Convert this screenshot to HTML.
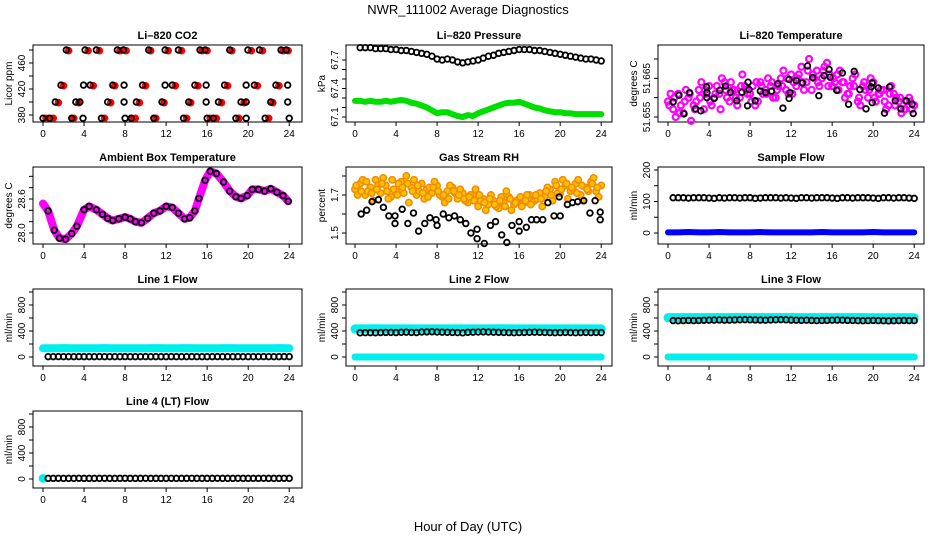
<!DOCTYPE html>
<html><head><meta charset="utf-8">
<style>
html,body{margin:0;padding:0;background:#fff;}
svg{display:block;font-family:"Liberation Sans",sans-serif;}
</style></head>
<body>
<svg id="chart" width="936" height="540" viewBox="0 0 936 540" xmlns="http://www.w3.org/2000/svg">
<text x="468" y="14" text-anchor="middle" font-size="13">NWR_111002  Average Diagnostics</text>
<text x="468" y="531" text-anchor="middle" font-size="13">Hour of Day (UTC)</text>
</svg>
<script>
// ---------- data ----------
const xTicks = [0,4,8,12,16,20,24];
// CO2
const co2BlackHours = [2.27,4.1,5.2,7.25,7.84,10.3,11.9,13.2,15.3,15.8,18.2,19.97,21.1,23.2,23.7, 1.75,3.95,4.6,6.8,7.9,9.7,11.9,12.6,14.8,15.9,17.7,19.8,20.6,22.7,23.85, 1.2,3.2,3.6,6.3,7.9,9.1,11.6,14.2,15.9,17.1,19.3,19.8,22.2,23.85, 0,0.65,2.8,3.9,5.7,8.0,8.6,10.8,13.7,16.0,16.6,18.8,19.8,21.65,24];
const co2BlackVals = [480,480,480,480,480,480,480,480,480,480,480,480,480,480,480, 426,426,426,426,426,426,426,426,426,426,426,426,426,426,426, 400,400,400,400,400,400,400,400,400,400,400,400,400,400, 375,375,375,375,375,375,375,375,375,375,375,375,375,375,375];
const co2RedHours = [2.5,4.4,5.5,7.5,8.1,10.5,12.2,13.5,15.5,16.0,18.4,20.3,21.4,23.4,23.9, 2.0,4.9,7.0,10.0,12.9,15.1,18.0,20.9,23.0, 1.5,3.5,6.6,9.4,11.8,14.4,17.4,19.6,22.4, 0.3,1.0,3.0,6.0,8.6,9.0,11.0,14.0,16.3,16.9,19.1,22.0];
const co2RedVals = [479,479,479,479,479,479,479,479,479,479,479,479,479,479,479, 425,425,425,425,425,425,425,425,425, 399,399,399,399,399,399,399,399,399, 375,375,375,375,375,375,375,375,375,375,375,375];
// Pressure
const presBlack = [67.83,67.83,67.83,67.82,67.82,67.82,67.81,67.81,67.80,67.80,67.79,67.78,67.77,67.76,67.74,67.71,67.70,67.71,67.70,67.68,67.67,67.68,67.69,67.70,67.72,67.74,67.75,67.77,67.78,67.79,67.80,67.81,67.81,67.81,67.80,67.80,67.79,67.78,67.77,67.76,67.75,67.74,67.73,67.72,67.71,67.71,67.70,67.69];
const presGreen = [67.27,67.27,67.26,67.27,67.26,67.26,67.27,67.26,67.27,67.28,67.27,67.25,67.24,67.22,67.20,67.17,67.14,67.15,67.15,67.13,67.11,67.10,67.12,67.11,67.14,67.16,67.18,67.20,67.22,67.24,67.25,67.25,67.26,67.24,67.22,67.20,67.19,67.17,67.16,67.15,67.15,67.14,67.14,67.13,67.13,67.13,67.13,67.13,67.13];
// Li-820 temperature
const tempBlackHours = [0.5,1.07,1.56,2.1,2.7,3.2,3.75,3.8,3.8,4.5,5.05,5.6,6.1,6.7,7.2,7.75,7.8,7.9,8.5,9.0,9.5,10.1,10.7,11.2,11.8,11.8,11.9,12.5,13.1,13.6,14.1,14.7,15.2,15.7,15.8,16.45,17.0,17.6,18.15,18.7,19.3,19.8,19.9,19.9,20.5,21.1,21.6,22.15,22.7,23.2,23.8,23.9];
const tempBlackVals = [51.6589,51.6606,51.6558,51.6613,51.6571,51.6566,51.6628,51.6613,51.6600,51.6598,51.6619,51.6630,51.6614,51.6592,51.6614,51.6579,51.6640,51.6621,51.6592,51.6617,51.6613,51.6617,51.6636,51.6573,51.6598,51.6647,51.6613,51.6644,51.6638,51.6682,51.6652,51.6605,51.6657,51.6673,51.6653,51.6619,51.6664,51.6583,51.6668,51.6621,51.6571,51.6628,51.6638,51.6587,51.6625,51.6560,51.6628,51.6592,51.6571,51.6592,51.6583,51.6559];
const tempMagA = [51.659,51.657,51.661,51.656,51.660,51.658,51.662,51.657,51.663,51.660,51.661,51.664,51.659,51.662,51.660,51.663,51.661,51.658,51.664,51.662,51.663,51.660,51.665,51.662,51.666,51.663,51.668,51.664,51.662,51.667,51.665,51.669,51.663,51.666,51.664,51.661,51.665,51.659,51.663,51.660,51.664,51.661,51.662,51.658,51.661,51.659,51.657,51.660,51.658];
const tempMagB = [51.661,51.655,51.658,51.662,51.654,51.659,51.664,51.661,51.658,51.663,51.665,51.660,51.662,51.658,51.666,51.661,51.663,51.659,51.661,51.665,51.660,51.663,51.667,51.661,51.664,51.666,51.662,51.670,51.665,51.663,51.668,51.666,51.664,51.667,51.660,51.663,51.666,51.658,51.662,51.665,51.659,51.662,51.657,51.663,51.660,51.656,51.659,51.657];
const tempMagC = [51.658,51.660,51.656,51.659,51.661,51.657,51.660,51.662,51.659,51.661,51.657,51.662,51.664,51.660,51.663,51.662,51.659,51.664,51.663,51.661,51.664,51.662,51.663,51.665,51.661,51.665,51.664,51.667,51.666,51.664,51.667,51.663,51.665,51.662,51.664,51.661,51.663,51.660,51.664,51.662,51.660,51.661,51.659,51.661,51.658,51.660,51.657,51.659];
// Ambient box temperature
const ambHours = [0,0.5,1.1,1.6,2.2,2.8,3.3,4.0,4.5,5.2,5.8,6.3,6.8,7.4,8.0,8.5,9.0,9.6,10.2,10.8,11.4,12.0,12.6,13.2,13.8,14.3,14.8,15.2,15.8,16.3,16.9,17.6,18.2,18.8,19.3,19.9,20.4,21.0,21.6,22.2,22.8,23.4,23.9];
const ambVals = [28.52,28.39,28.05,27.91,27.89,27.99,28.12,28.41,28.47,28.41,28.33,28.26,28.22,28.25,28.28,28.25,28.20,28.18,28.26,28.35,28.39,28.47,28.45,28.35,28.25,28.27,28.39,28.61,28.93,29.09,29.05,28.90,28.74,28.64,28.61,28.66,28.77,28.77,28.74,28.78,28.72,28.66,28.56];
// Gas stream RH
const rhBlackHours = [0.6,1.14,1.66,2.28,2.77,3.3,3.9,3.9,4.6,5.15,5.7,6.2,6.8,7.3,7.9,8.0,8.6,9.15,9.7,10.26,10.8,11.3,11.9,11.9,12.6,13.2,13.7,14.3,14.8,15.3,16.0,16.0,16.7,17.2,17.7,18.3,18.8,19.4,19.9,20.0,20.7,21.2,21.7,22.3,22.9,23.4,23.9,23.9];
const rhBlackVals = [1.60,1.62,1.665,1.675,1.635,1.59,1.59,1.55,1.625,1.55,1.605,1.51,1.55,1.58,1.57,1.54,1.60,1.58,1.59,1.57,1.55,1.50,1.52,1.47,1.445,1.54,1.56,1.49,1.45,1.54,1.56,1.51,1.53,1.57,1.57,1.57,1.66,1.59,1.69,1.59,1.65,1.66,1.665,1.67,1.605,1.67,1.61,1.57];
const rhOrangeA = [1.73,1.76,1.70,1.74,1.78,1.71,1.75,1.69,1.72,1.77,1.80,1.74,1.70,1.76,1.73,1.71,1.75,1.69,1.72,1.74,1.68,1.71,1.66,1.70,1.64,1.68,1.65,1.67,1.63,1.66,1.69,1.65,1.68,1.66,1.70,1.67,1.71,1.69,1.73,1.77,1.71,1.75,1.72,1.76,1.70,1.74,1.77,1.72,1.75];
const rhOrangeB = [1.70,1.78,1.72,1.67,1.75,1.79,1.68,1.73,1.76,1.71,1.66,1.78,1.72,1.68,1.74,1.77,1.70,1.66,1.75,1.71,1.73,1.67,1.70,1.73,1.67,1.62,1.70,1.64,1.69,1.72,1.62,1.67,1.64,1.70,1.66,1.68,1.64,1.74,1.67,1.71,1.78,1.68,1.73,1.78,1.67,1.72,1.79,1.69];
const rhOrangeC = [1.75,1.72,1.77,1.71,1.73,1.76,1.72,1.78,1.70,1.74,1.76,1.72,1.75,1.71,1.69,1.74,1.72,1.70,1.68,1.72,1.70,1.68,1.69,1.67,1.70,1.66,1.68,1.65,1.67,1.64,1.68,1.66,1.69,1.67,1.65,1.70,1.68,1.72,1.70,1.75,1.73,1.76,1.74,1.71,1.75,1.73,1.76,1.74];
// Flows (48 values at 0.5..24)
const sampleBlack = [112,112,112,111,112,112,112,111,110,112,111,112,112,111,112,112,110,111,112,112,112,111,112,111,110,112,112,111,112,112,112,111,110,112,112,111,112,112,112,111,110,112,112,111,112,112,111,110];
const sampleBlue = [2,2,3,2,2,3,2,2,2,3,2,2,2,2,2,3,2,2,2,2,3,2,2,2,2];
const line1Black = [5,5,6,5,5,5,6,5,5,5,6,5,5,5,5,6,5,5,5,6,5,5,5,5,6,5,5,5,6,5,5,5,5,6,5,5,5,6,5,5,5,5,6,5,5,5,6,5];
const line1Cyan = [135,135,136,135,135,135,136,135,135,135,135,136,135,135,137,135,135,135,136,135,135,135,135,136,135];
const line2Black = [372,374,375,373,376,378,378,376,380,382,378,376,384,386,388,384,382,380,378,376,372,380,382,384,386,384,382,380,378,376,374,376,378,380,382,380,378,376,374,376,378,376,374,376,378,376,378,376];
const line2Cyan = [432,432,434,432,432,433,432,432,432,432,432,433,432,432,434,432,432,432,432,433,432,432,432,432,432];
const line3Black = [560,558,560,562,560,562,565,566,568,570,566,568,570,572,574,572,570,568,566,570,572,574,572,568,566,564,566,562,560,562,564,566,568,566,564,562,560,558,560,562,560,558,556,558,560,562,560,560];
const line3Cyan = [605,605,606,605,605,605,606,605,605,605,605,606,605,605,606,605,605,605,606,605,603,603,603,603,603];
const line4Black = [10,10,11,10,10,10,11,10,10,10,10,11,10,10,10,11,10,10,10,11,10,10,10,10,11,10,10,10,11,10,10,10,10,11,10,10,10,11,10,10,10,10,11,10,10,10,11,10];
const zeroCyan = [0,0,0,0,0,0,0,0,0,0,0,0,0,0,0,0,0,0,0,0,0,0,0,0,0];

// ---------- layout ----------
const NS = "http://www.w3.org/2000/svg";
const svg = document.getElementById('chart');
const colBox = [[33,302],[346,612],[658,924]];
const colX0 = [43,355,668];
const ppH = 10.26;
const rowTop = [45,167,289,411];
const BH = 77;
function el(tag, attrs, parent){const e=document.createElementNS(NS,tag);for(const k in attrs)e.setAttribute(k,attrs[k]);(parent||svg).appendChild(e);return e;}
function halfHours(n){const a=[];for(let i=1;i<=n;i++)a.push(i*0.5);return a;}
function wholeHours(n){const a=[];for(let i=0;i<n;i++)a.push(i);return a;}
function qHours(n,off){const a=[];for(let i=0;i<n;i++)a.push(off+i*0.5);return a;}

function panel(name,title,ytitle,col,row,v1,o1,v2,o2,ticks,labels){
  const g=el('g',{});
  
  
  const L=colBox[col][0],R=colBox[col][1],T=rowTop[row],B=T+BH;
  const x=h=>colX0[col]+h*ppH;
  const y=v=>T+o1+(v-v1)*(o2-o1)/(v2-v1);
  const box=el('rect',{x:L,y:T,width:R-L,height:BH,fill:'none',stroke:'#000','stroke-width':1},g);
  
  
  const t=el('text',{x:(L+R)/2,y:T-6,'text-anchor':'middle','font-size':11,'font-weight':'bold'},g);t.textContent=title;
  
  
  const xa=el('g',{},g);
  
  
  el('line',{x1:x(0),x2:x(24),y1:B,y2:B,stroke:'#000'},xa);
  xTicks.forEach(h=>{el('line',{x1:x(h),x2:x(h),y1:B,y2:B+4,stroke:'#000'},xa);
    const tl=el('text',{x:x(h),y:B+15,'text-anchor':'middle','font-size':10},xa);tl.textContent=h;
    
    });
  const ya=el('g',{},g);
  
  
  el('line',{x1:L,x2:L,y1:y(ticks[0]),y2:y(ticks[ticks.length-1]),stroke:'#000'},ya);
  ticks.forEach(v=>{el('line',{x1:L-4,x2:L,y1:y(v),y2:y(v),stroke:'#000'},ya);});
  labels.forEach(lab=>{const tl=el('text',{x:L-8,y:y(lab[0]),'text-anchor':'middle','font-size':10,transform:`rotate(-90 ${L-8} ${y(lab[0])})`},ya);tl.textContent=lab[1];
    
    });
  const yt=el('text',{x:L-21,y:(T+B)/2,'text-anchor':'middle','font-size':10,transform:`rotate(-90 ${L-21} ${(T+B)/2})`},g);yt.textContent=ytitle;
  
  
  return {g,x,y};
}
function circles(p,hs,vs,name,stroke,opts){
  const g=el('g',{},p.g);
  
  
  hs.forEach((h,i)=>{const c=el('circle',{cx:p.x(h),cy:p.y(vs[i]),r:opts&&opts.r||2.8,fill:opts&&opts.fill||'none',stroke:stroke,'stroke-width':opts&&opts.sw||1.8},g);
    
    });
}
function band(p,hs,vs,name,color,w){
  const pts=hs.map((h,i)=>p.x(h)+','+p.y(vs[i])).join(' ');
  const l=el('polyline',{points:pts,fill:'none',stroke:color,'stroke-width':w,'stroke-linecap':'round','stroke-linejoin':'round'},p.g);
  
  
}

// CO2
let p=panel('co2','Li\u2013820 CO2','Licor ppm',0,0,380,70,480,5,[380,400,420,440,460,480],[[380,'380'],[420,'420'],[460,'460']]);
circles(p,co2RedHours,co2RedVals,'co2-red-series','#ff0000',{fill:'#ff0000',r:3.3,sw:1});
circles(p,co2BlackHours,co2BlackVals,'co2-black-series','#000');
// Pressure
p=panel('pressure','Li\u2013820 Pressure','kPa',1,0,67.1,72,67.7,15,[67.1,67.2,67.3,67.4,67.5,67.6,67.7],[[67.1,'67.1'],[67.4,'67.4'],[67.7,'67.7']]);
band(p,qHours(49,0),presGreen,'pressure-green-series','#00dd00',6);
circles(p,halfHours(48),presBlack,'pressure-black-series','#000');
// Li-820 temperature
p=panel('li820-temp','Li\u2013820 Temperature','degrees C',2,0,51.655,72,51.670,14,[51.655,51.660,51.665,51.670],[[51.655,'51.655'],[51.665,'51.665']]);
circles(p,qHours(49,0),tempMagA,'temp-magenta-a','#ff00ff',{sw:2.2,r:3});
circles(p,qHours(48,0.25),tempMagB,'temp-magenta-b','#ff00ff',{sw:2.2,r:3});
circles(p,qHours(48,0.12),tempMagC,'temp-magenta-c','#ff00ff',{sw:2.2,r:3});
circles(p,tempBlackHours,tempBlackVals,'temp-black-series','#000');
// Ambient
p=panel('ambient-temp','Ambient Box Temperature','degrees C',0,1,28.0,66,28.6,32,[28.0,28.2,28.4,28.6,28.8,29.0],[[28.0,'28.0'],[28.6,'28.6']]);
band(p,ambHours,ambVals,'ambient-magenta-series','#ff00ff',8);
circles(p,ambHours.slice(1),ambVals.slice(1),'ambient-black-series','#000');
// RH
p=panel('gas-rh','Gas Stream RH','percent',1,1,1.5,66,1.7,28,[1.5,1.6,1.7,1.8],[[1.5,'1.5'],[1.7,'1.7']]);
circles(p,qHours(49,0),rhOrangeA,'rh-orange-a','#f08c00',{fill:'#ffc000',r:3.2,sw:1.5});
circles(p,qHours(48,0.25),rhOrangeB,'rh-orange-b','#f08c00',{fill:'#ffc000',r:3.2,sw:1.5});
circles(p,qHours(48,0.12),rhOrangeC,'rh-orange-c','#f08c00',{fill:'#ffc000',r:3.2,sw:1.5});
circles(p,rhBlackHours,rhBlackVals,'rh-black-series','#000');
// Sample flow
p=panel('sample-flow','Sample Flow','ml/min',2,1,0,66,200,3,[0,50,100,150,200],[[0,'0'],[100,'100'],[200,'200']]);
band(p,wholeHours(25),sampleBlue,'sample-blue-series','#0000ff',6);
circles(p,halfHours(48),sampleBlack,'sample-black-series','#000');
// Line flows
const fT=[0,200,400,600,800,1000], fL=[[0,'0'],[400,'400'],[800,'800']];
p=panel('line1-flow','Line 1 Flow','ml/min',0,2,0,68,800,16,fT,fL);
band(p,wholeHours(25),line1Cyan,'line1-cyan-series','#00eeee',8);
circles(p,halfHours(48),line1Black,'line1-black-series','#000');
p=panel('line2-flow','Line 2 Flow','ml/min',1,2,0,68,800,16,fT,fL);
band(p,wholeHours(25),line2Cyan,'line2-cyan-series','#00eeee',9);
band(p,wholeHours(25),zeroCyan,'line2-cyan-zero-series','#00eeee',7);
circles(p,halfHours(48),line2Black,'line2-black-series','#000');
p=panel('line3-flow','Line 3 Flow','ml/min',2,2,0,68,800,16,fT,fL);
band(p,wholeHours(25),line3Cyan,'line3-cyan-series','#00eeee',9);
band(p,wholeHours(25),zeroCyan,'line3-cyan-zero-series','#00eeee',7);
circles(p,halfHours(48),line3Black,'line3-black-series','#000');
p=panel('line4-flow','Line 4 (LT) Flow','ml/min',0,3,0,68,800,16,fT,fL);
circles(p,[0],[10],'line4-cyan-series','#00eeee',{fill:'#00eeee',r:3.5});
circles(p,halfHours(48),line4Black,'line4-black-series','#000');
</script>
</body></html>
